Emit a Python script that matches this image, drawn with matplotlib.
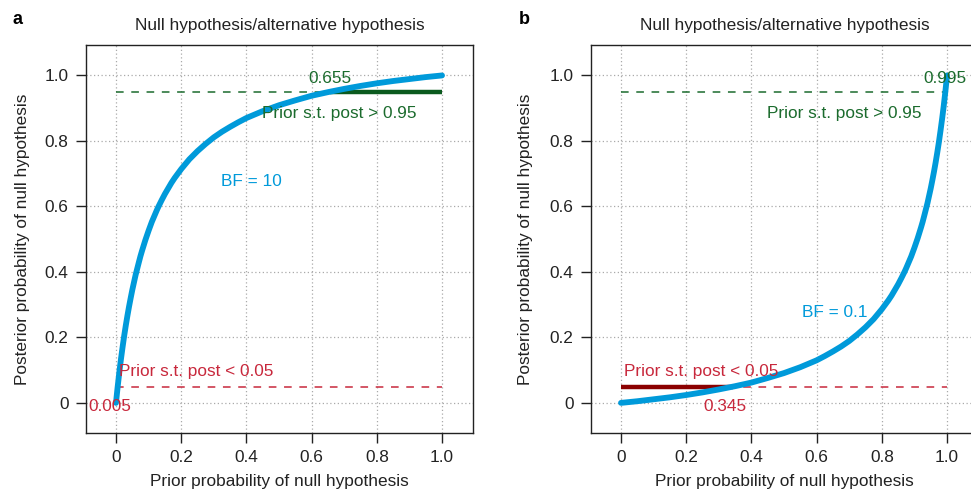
import numpy as np
import matplotlib
matplotlib.use('Agg')
import matplotlib.pyplot as plt

plt.rcParams['font.family'] = ['Liberation Sans', 'DejaVu Sans']

# curve values
prior_a = [0, 0.0025, 0.005, 0.0075, 0.01, 0.015, 0.02, 0.025, 0.03, 0.035,
           0.04, 0.045, 0.05, 0.06, 0.07, 0.075, 0.08, 0.09, 0.1, 0.11,
           0.125, 0.13, 0.14, 0.15, 0.17, 0.18, 0.2, 0.225, 0.25, 0.275,
           0.3, 0.325, 0.35, 0.375, 0.4, 0.45, 0.5, 0.55, 0.6, 0.65,
           0.7, 0.75, 0.8, 0.85, 0.9, 0.95, 1.0]
post_a = [0, 0.0245, 0.048, 0.070, 0.092, 0.132, 0.169, 0.204, 0.236, 0.266,
          0.294, 0.320, 0.345, 0.390, 0.429, 0.448, 0.465, 0.497, 0.526, 0.553,
          0.588, 0.599, 0.619, 0.638, 0.672, 0.687, 0.714, 0.744, 0.769, 0.791,
          0.811, 0.828, 0.843, 0.857, 0.870, 0.891, 0.909, 0.924, 0.938, 0.949,
          0.959, 0.968, 0.976, 0.983, 0.989, 0.995, 1.0]

prior_b = [0, 0.05, 0.1, 0.15, 0.2, 0.25, 0.3, 0.35, 0.4, 0.45,
           0.5, 0.55, 0.6, 0.625, 0.65, 0.675, 0.7, 0.725, 0.75, 0.775,
           0.8, 0.82, 0.83, 0.85, 0.86, 0.87, 0.875, 0.89, 0.9, 0.91,
           0.92, 0.925, 0.93, 0.94, 0.95, 0.955, 0.96, 0.965, 0.97, 0.975,
           0.98, 0.985, 0.99, 0.9925, 0.995, 0.9975, 1.0]
post_b = [0, 0.005, 0.011, 0.017, 0.024, 0.032, 0.041, 0.051, 0.062, 0.076,
          0.091, 0.109, 0.130, 0.143, 0.157, 0.172, 0.189, 0.209, 0.231, 0.256,
          0.286, 0.313, 0.328, 0.362, 0.381, 0.401, 0.412, 0.447, 0.474, 0.503,
          0.535, 0.552, 0.571, 0.610, 0.655, 0.680, 0.706, 0.734, 0.764, 0.796,
          0.831, 0.868, 0.908, 0.930, 0.952, 0.9755, 1.0]

low_cut = 0.05
high_cut = 0.95
cut_a = [0.005, 0.655]   # prior s.t. post < 0.05 / post > 0.95
cut_b = [0.345, 0.995]
bf_a = 'BF = 10'
bf_b = 'BF = 0.1'

ticks = [0, 0.2, 0.4, 0.6, 0.8, 1.0]
tick_labels = ['0', '0.2', '0.4', '0.6', '0.8', '1.0']

blue = '#009ADA'
green = '#1B6B2D'
dgreen = '#0B5A1E'
red = '#C8283C'
dred = '#8B0000'
fs = 12.4

fig = plt.figure(figsize=(9.71, 4.9), dpi=100)
W, H = 971, 490
axa = fig.add_axes([86 / W, 1 - 433 / H, 387 / W, 388 / H])
axb = fig.add_axes([591 / W, 1 - 433 / H, 387 / W, 388 / H])


def panel(ax, prior, post, cut, bf, bf_xy, lab_low, lab_high):
    ax.set_xlim(-0.092, 1.095)
    ax.set_ylim(-0.092, 1.093)
    ax.set_xticks(ticks)
    ax.set_xticklabels(tick_labels)
    ax.set_yticks(ticks)
    ax.set_yticklabels(tick_labels)
    ax.tick_params(direction='out', length=7, width=1, labelsize=fs, pad=5.5,
                   colors='#222222')
    ax.grid(True, linestyle=(0, (1, 2)), color='#AAAAAA', linewidth=0.9)
    for s in ax.spines.values():
        s.set_linewidth(1.0)
        s.set_color('#222222')

    ax.plot([0, 1], [high_cut, high_cut], color=green, lw=1.1, dashes=(5, 5))
    ax.plot([0, 1], [low_cut, low_cut], color=red, lw=1.1, dashes=(5, 5))
    ax.plot([0, cut[0]], [low_cut, low_cut], color=dred, lw=3.2,
            solid_capstyle='butt')
    ax.plot([cut[1], 1], [high_cut, high_cut], color=dgreen, lw=3.2,
            solid_capstyle='butt')
    ax.plot(prior, post, color=blue, lw=4.2, solid_capstyle='round',
            solid_joinstyle='round')

    ax.text(bf_xy[0], bf_xy[1], bf, color=blue, fontsize=fs, ha='center', va='center')
    ax.text(0.245, 0.095, 'Prior s.t. post < 0.05', color=red, fontsize=fs,
            ha='center', va='center')
    ax.text(0.685, 0.885, 'Prior s.t. post > 0.95', color=green, fontsize=fs,
            ha='center', va='center')
    ax.text(lab_low[0], lab_low[1], '%.3f' % cut[0], color=red, fontsize=fs,
            ha='center', va='center')
    ax.text(lab_high[0], lab_high[1], '%.3f' % cut[1], color=green, fontsize=fs,
            ha='center', va='center')

    ax.text(0.5, 1.049, 'Null hypothesis/alternative hypothesis', transform=ax.transAxes,
            fontsize=fs, ha='center', va='center', color='#222222')
    ax.text(0.5, -(481 - 433) / 388, 'Prior probability of null hypothesis',
            transform=ax.transAxes, fontsize=fs, ha='center', va='center',
            color='#222222')


panel(axa, prior_a, post_a, cut_a, bf_a, (0.415, 0.675), (-0.02, -0.012), (0.656, 0.99))
panel(axb, prior_b, post_b, cut_b, bf_b, (0.655, 0.275), (0.32, -0.012), (0.993, 0.99))

axa.text(-0.165, 0.5, 'Posterior probability of null hypothesis', transform=axa.transAxes,
         rotation=90, fontsize=fs, ha='center', va='center', color='#222222')
axb.text(-0.17, 0.5, 'Posterior probability of null hypothesis', transform=axb.transAxes,
         rotation=90, fontsize=fs, ha='center', va='center', color='#222222')

fig.text(17 / W, 1 - 20 / H, 'a', fontsize=13, fontweight='bold', ha='center', va='center')
fig.text(524 / W, 1 - 20 / H, 'b', fontsize=13, fontweight='bold', ha='center', va='center')

fig.savefig('out.png', dpi=100)
